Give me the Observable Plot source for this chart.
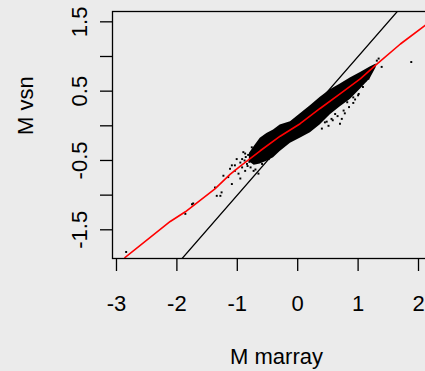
<!DOCTYPE html>
<html>
<head>
<meta charset="utf-8">
<script src="https://cdn.jsdelivr.net/npm/d3@7"></script>
<script src="https://cdn.jsdelivr.net/npm/@observablehq/plot@0.6"></script>
<style>
  html, body { margin: 0; padding: 0; background: #ebebeb; }
  #wrap { width: 425px; height: 371px; overflow: hidden; background: #ebebeb; }
  #wrap svg { display: block; max-width: none !important; }
</style>
</head>
<body>
<div id="wrap"></div>
<script>
// Axis ticks and labels
const xTicks = [-3, -2, -1, 0, 1, 2];
const yTicks = [-1.5, -1, -0.5, 0, 0.5, 1, 1.5];
const yTickLabels = [-1.5, -0.5, 0.5, 1.5];
const xTitle = "M marray";
const yTitle = "M vsn";

// Dense core of the scatter: lower and upper envelope along M marray
const coreX    = [-0.80, -0.72, -0.62, -0.51, -0.40, -0.29, -0.12, 0.04, 0.21, 0.37, 0.54, 0.70, 0.87, 1.04, 1.20, 1.30];
const coreLow  = [-0.52, -0.57, -0.55, -0.51, -0.46, -0.37, -0.25, -0.18, -0.10, 0.01, 0.16, 0.27, 0.38, 0.53, 0.68, 0.84];
const coreHigh = [-0.40, -0.30, -0.18, -0.11, -0.06, 0.01, 0.06, 0.17, 0.29, 0.41, 0.52, 0.60, 0.69, 0.77, 0.85, 0.89];

// Sparse spots outside the dense core
const spotX = [-2.84, -1.86, -1.75, -1.73, -1.37, -1.34, -1.28, -1.26, -1.23, -1.15, -1.09, -1.12, -1.04, -0.98, -0.95, -0.92, -0.87, -0.84, -0.87, -0.90, -0.76, -1.01, -0.95, -1.09, -0.92, -1.04, -0.65, -0.73, -0.59, -0.48,
               -0.86, -0.88, -0.82, -0.80, -0.83, -0.78, -0.70, -0.66,
               1.04, 1.17, 1.01, 0.92, 0.82, 0.76, 0.73, 0.62, 0.56, 0.70, 0.51, 0.40, 1.17, 1.31, 1.39, 1.88, 1.34, 1.12, 0.98, 0.88, 0.60, 0.45,
               0.85, 0.95, 1.08, 0.66, 0.78, 0.58, 0.48, 0.92, 1.00];
const spotY = [-1.82, -1.27, -1.13, -1.12, -0.89, -1.01, -1.01, -0.96, -0.72, -0.74, -0.84, -0.62, -0.57, -0.69, -0.76, -0.48, -0.65, -0.55, -0.40, -0.38, -0.31, -0.48, -0.53, -0.57, -0.60, -0.65, -0.69, -0.65, -0.55, -0.48,
               -0.45, -0.50, -0.42, -0.52, -0.58, -0.60, -0.63, -0.26,
               0.63, 0.68, 0.46, 0.41, 0.34, 0.22, 0.10, 0.17, 0.10, 0.03, 0.00, -0.04, 0.75, 0.94, 0.85, 0.92, 0.97, 0.65, 0.55, 0.50, 0.26, 0.05,
               0.27, 0.38, 0.56, 0.14, 0.18, 0.08, 0.06, 0.33, 0.44];

// Lowess fit (red)
const fitX = [-2.86, -2.11, -1.86, -1.37, -1.12, -0.95, -0.62, -0.29, 0.04, 0.37, 0.70, 1.04, 1.31, 1.70, 2.11, 2.40];
const fitY = [-1.90, -1.38, -1.24, -0.91, -0.70, -0.58, -0.36, -0.15, 0.03, 0.25, 0.46, 0.68, 0.89, 1.18, 1.45, 1.64];

// Identity line y = x
const identity = [-3.5, 3];

const core = coreX.map((x, i) => ({x, lo: coreLow[i], hi: coreHigh[i]}));
const spots = spotX.map((x, i) => ({x, y: spotY[i]}));
const fit = fitX.map((x, i) => ({x, y: fitY[i]}));

const font = "'Liberation Sans', Arial, Helvetica, sans-serif";
const fmt = d => String(d);

const chart = Plot.plot({
  width: 445,
  height: 371,
  marginLeft: 112,
  marginRight: 5,
  marginTop: 11,
  marginBottom: 113,
  style: {background: "transparent", fontFamily: font, color: "black", maxWidth: "none"},
  x: {domain: [-3.066, 2.364]},
  y: {domain: [-1.914, 1.649]},
  marks: [
    Plot.areaY(core, {x: "x", y1: "lo", y2: "hi", fill: "black", curve: "linear"}),
    Plot.dot(spots, {x: "x", y: "y", symbol: "square", r: 1.1, fill: "black", stroke: "none"}),
    Plot.line(identity, {x: d => d, y: d => d, stroke: "black", strokeWidth: 1.3, clip: true}),
    Plot.line(fit, {x: "x", y: "y", stroke: "red", strokeWidth: 1.6, clip: true}),
    Plot.frame({stroke: "black", strokeWidth: 1.3}),
    Plot.axisX({ticks: xTicks, tickSize: 13, tickPadding: 24, tickFormat: fmt, fontSize: 22, label: null, strokeWidth: 1.3}),
    Plot.axisY({ticks: yTicks, tickSize: 12, tickFormat: () => "", label: null, strokeWidth: 1.3}),
    Plot.text(yTickLabels, {y: d => d, text: fmt, frameAnchor: "left", dx: -33, rotate: -90, fontSize: 22, lineAnchor: "middle", textAnchor: "middle"}),
    Plot.text([xTitle], {text: d => d, frameAnchor: "bottom", dy: 98, fontSize: 22, lineAnchor: "middle"}),
    Plot.text([yTitle], {text: d => d, frameAnchor: "left", dx: -87, rotate: -90, fontSize: 22, lineAnchor: "middle"})
  ]
});

document.getElementById("wrap").appendChild(chart);
</script>
</body>
</html>
